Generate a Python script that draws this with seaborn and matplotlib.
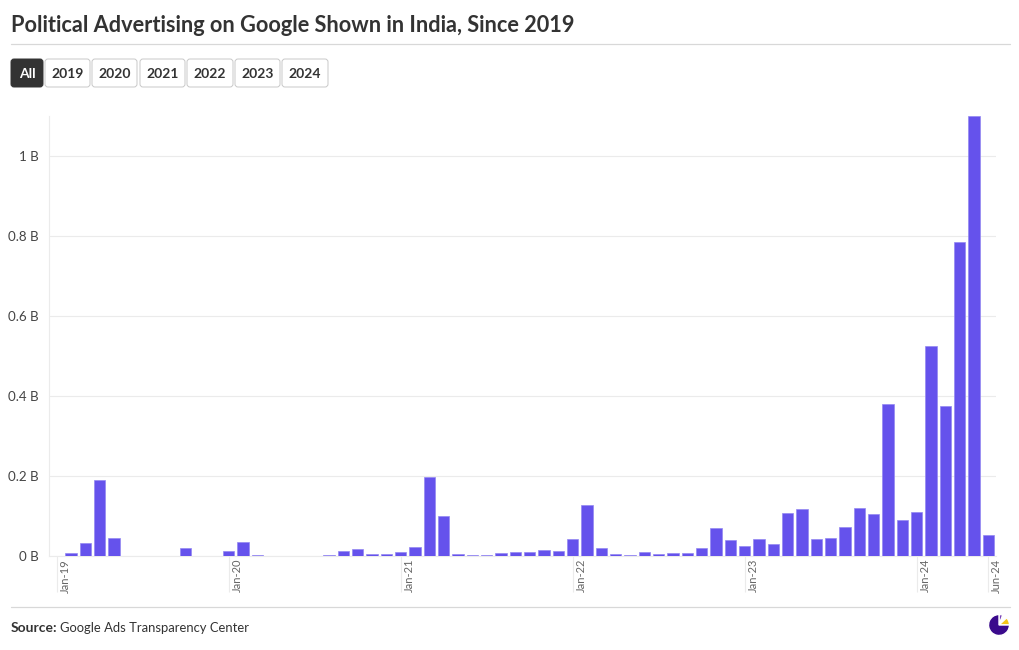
import matplotlib
matplotlib.use('Agg')
import matplotlib.pyplot as plt
import matplotlib.transforms as mtrans
from matplotlib.patches import FancyBboxPatch
from matplotlib.lines import Line2D
import pandas as pd
import seaborn as sns

W, H = 1020, 650

years = [2019, 2020, 2021, 2022, 2023, 2024]
month_names = ['Jan', 'Feb', 'Mar', 'Apr', 'May', 'Jun', 'Jul', 'Aug', 'Sep', 'Oct', 'Nov', 'Dec']
months = [f'{m}-{str(y)[2:]}' for y in years for m in month_names][:66]

# monthly spend, billions
spend = [
    0, 0.007, 0.033, 0.189, 0.045, 0, 0, 0, 0, 0.020, 0, 0.001,
    0.0125, 0.034, 0.002, 0, 0, 0, 0, 0.003, 0.013, 0.017, 0.006, 0.006,
    0.009, 0.022, 0.197, 0.100, 0.004, 0.003, 0.002, 0.008, 0.011, 0.009, 0.015, 0.012,
    0.043, 0.127, 0.020, 0.004, 0.002, 0.011, 0.005, 0.007, 0.008, 0.020, 0.070, 0.040,
    0.025, 0.0425, 0.030, 0.1075, 0.1175, 0.0425, 0.045, 0.0733, 0.119, 0.106, 0.380, 0.090,
    0.109, 0.525, 0.375, 0.785, 1.100, 0.0525,
]
yticks = [0, 0.2, 0.4, 0.6, 0.8, 1.0]
ytick_labels = ['0 B', '0.2 B', '0.4 B', '0.6 B', '0.8 B', '1 B']
xtick_labels = ['Jan-19', 'Jan-20', 'Jan-21', 'Jan-22', 'Jan-23', 'Jan-24', 'Jun-24']
buttons = ['All', '2019', '2020', '2021', '2022', '2023', '2024']
button_edges = [(11, 43), (45, 90), (92, 137), (140, 185), (187, 233), (235, 280), (282, 328)]
logo_shares = [0.06, 0.07, 0.12, 0.75]

DARK = '#333333'
BAR = '#6552EC'
BAR_EDGE = '#9488F2'
GRID = '#EBEBEB'
RULE = '#D8D8D8'

sns.set_style('white')
plt.rcParams['font.family'] = ['Lato', 'DejaVu Sans']


def fx(px):
    return px / W


def fy(px):
    return 1 - px / H


df = pd.DataFrame({'month': months, 'spend': spend})

fig = plt.figure(figsize=(W / 100, H / 100), dpi=100, facecolor='white')
ax = fig.add_axes([fx(49.5), fy(556), (995.5 - 49.5) / W, (556 - 116) / H])

sns.barplot(data=df, x='month', y='spend', color=BAR, saturation=1, width=0.79, ax=ax, zorder=3)
# thin pale outline so the very small months still show
for bar in ax.patches:
    if bar.get_height() > 0:
        bar.set_edgecolor(BAR_EDGE)
        bar.set_linewidth(0.5)
ax.set_xlim(-0.5, 65.5)
ax.set_ylim(0, 1.1)
ax.set_xlabel('')
ax.set_ylabel('')

# y axis
ax.set_yticks(yticks)
ax.set_yticklabels(ytick_labels, fontsize=9.6, color='#444444')
ax.tick_params(axis='y', length=0, pad=7.5)
ax.grid(axis='y', color=GRID, linewidth=0.8, zorder=0)
ax.set_axisbelow(True)
for side in ['top', 'right']:
    ax.spines[side].set_visible(False)
ax.spines['left'].set_color(GRID)
ax.spines['left'].set_linewidth(0.8)
ax.spines['bottom'].set_color(GRID)
ax.spines['bottom'].set_linewidth(0.8)

# x axis, labels sit to the right of long pale ticks
xtick_pos = [months.index(m) for m in xtick_labels]
ax.set_xticks(xtick_pos)
ax.set_xticklabels(xtick_labels, rotation=90, fontsize=8, color='#666666', ha='center', va='top')
ax.tick_params(axis='x', bottom=True, length=26, width=0.8, color=GRID, pad=-24)
shift = mtrans.ScaledTranslation(8.5 / 100, 0, fig.dpi_scale_trans)
for lbl in ax.get_xticklabels():
    lbl.set_transform(lbl.get_transform() + shift)

# header and footer
fig.text(fx(11), fy(25), 'Political Advertising on Google Shown in India, Since 2019',
         fontsize=15.7, fontweight='bold', color=DARK, va='center', ha='left')
fig.add_artist(Line2D([fx(11), fx(1010)], [fy(44), fy(44)], color=RULE, linewidth=0.9))
fig.add_artist(Line2D([fx(11), fx(1010)], [fy(607), fy(607)], color=RULE, linewidth=0.9))

fig.text(fx(11), fy(627.5), 'Source:', fontsize=10, fontweight='bold', color=DARK, va='center', ha='left')
fig.text(fx(60), fy(627.5), 'Google Ads Transparency Center', fontsize=9.4, color=DARK, va='center', ha='left')

# year buttons
for name, (x0, x1) in zip(buttons, button_edges):
    active = name == 'All'
    box = FancyBboxPatch((x0, H - 87), x1 - x0, 28, boxstyle='round,pad=0,rounding_size=3',
                         transform=None, facecolor=DARK if active else 'white',
                         edgecolor=DARK if active else '#C8C8C8', linewidth=0.7)
    fig.add_artist(box)
    fig.text(fx((x0 + x1) / 2), fy(73.5), name, fontsize=10, fontweight='bold',
             color='white' if active else DARK, ha='center', va='center')

# small pie logo
logo = fig.add_axes([fx(988.5), fy(635.5), 21 / W, 21 / H])
logo.pie(logo_shares, colors=['#7B45B8', 'white', '#F5C518', '#3A0A8C'], startangle=90,
         counterclock=False, radius=1.0)
logo.set_xlim(-1, 1)
logo.set_ylim(-1, 1)
logo.set_aspect('equal')

fig.savefig('out.png', dpi=100)
